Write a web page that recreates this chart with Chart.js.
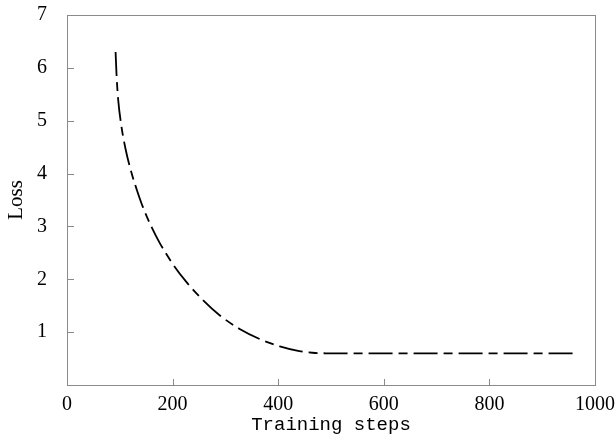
<!DOCTYPE html>
<html>
<head>
<meta charset="utf-8">
<script src="https://cdn.jsdelivr.net/npm/chart.js@4"></script>
<style>
  html, body { margin: 0; padding: 0; background: #fff; }
  #wrap { width: 615px; height: 440px; }
</style>
</head>
<body>
<div id="wrap"><canvas id="lossChart" width="615" height="440"></canvas></div>
<script>
// ── données ──
const steps = [92, 94, 97, 103, 111, 122, 132, 144, 160, 176, 201, 226, 258, 289, 327, 365, 403, 440, 465, 490, 600, 800, 960];
const loss  = [6.30, 5.83, 5.39, 4.90, 4.46, 4.02, 3.70, 3.36, 2.99, 2.68, 2.28, 1.95, 1.60, 1.32, 1.06, 0.87, 0.73, 0.64, 0.61, 0.60, 0.60, 0.60, 0.60];
const xTicks = [0, 200, 400, 600, 800, 1000];
const yTicks = [0, 1, 2, 3, 4, 5, 6, 7];

const AXIS = '#8a8a8a';
const serif = "'Liberation Serif', 'DejaVu Serif', serif";

// cadre + petites graduations vers l'intérieur
const frame = {
  id: 'frame',
  afterDraw(chart) {
    const { ctx, chartArea: a, scales } = chart;
    ctx.save();
    ctx.strokeStyle = AXIS;
    ctx.lineWidth = 1;
    ctx.strokeRect(a.left + 0.5, a.top + 0.5, a.right - a.left, a.bottom - a.top);
    ctx.beginPath();
    yTicks.slice(1, -1).forEach(v => {
      const y = Math.round(scales.y.getPixelForValue(v)) + 0.5;
      ctx.moveTo(a.left, y);
      ctx.lineTo(a.left + 7, y);
    });
    xTicks.slice(1, -1).forEach(v => {
      const x = Math.round(scales.x.getPixelForValue(v)) + 0.5;
      ctx.moveTo(x, a.bottom);
      ctx.lineTo(x, a.bottom - 6);
    });
    ctx.stroke();
    ctx.restore();
  }
};

new Chart(document.getElementById('lossChart'), {
  type: 'line',
  data: {
    datasets: [{
      data: steps.map((s, i) => ({ x: s, y: loss[i] })),
      borderColor: '#000',
      borderWidth: 1.8,
      borderDash: [24, 6, 9, 6],
      pointRadius: 0,
      fill: false,
      cubicInterpolationMode: 'monotone'
    }]
  },
  options: {
    responsive: false,
    animation: false,
    layout: { padding: { top: 15, right: 10, left: 0, bottom: 0 } },
    plugins: { legend: { display: false }, tooltip: { enabled: false } },
    scales: {
      x: {
        type: 'linear',
        min: 0, max: 1000,
        afterBuildTicks: s => { s.ticks = xTicks.map(v => ({ value: v })); },
        afterFit: s => { s.height = 55; },
        grid: { display: false },
        border: { display: false },
        ticks: {
          color: '#000',
          font: { family: serif, size: 20 },
          padding: 0,
          maxRotation: 0,
          callback: v => String(v)
        },
        title: {
          display: true,
          text: 'Training steps',
          color: '#000',
          font: { family: "'Liberation Mono', 'DejaVu Sans Mono', monospace", size: 19 },
          padding: { top: 4 }
        }
      },
      y: {
        min: 0, max: 7,
        afterBuildTicks: s => { s.ticks = yTicks.map(v => ({ value: v })); },
        afterFit: s => { s.width = 67; s.paddingTop = 0; s.paddingBottom = 0; },
        grid: { display: false },
        border: { display: false },
        ticks: {
          color: '#000',
          font: { family: serif, size: 20 },
          padding: 12,
          callback: v => v === 0 ? '' : String(v)
        },
        title: {
          display: true,
          text: 'Loss',
          color: '#000',
          font: { family: serif, size: 21 },
          padding: { bottom: 2 }
        }
      }
    }
  },
  plugins: [frame]
});
</script>
</body>
</html>
